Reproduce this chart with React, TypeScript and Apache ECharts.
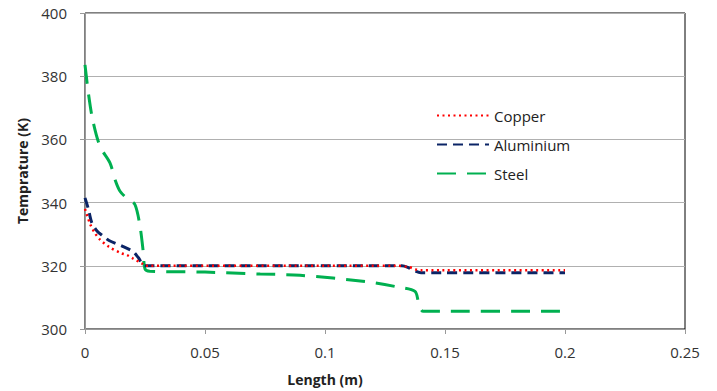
import React, { useEffect, useRef } from "react";
import * as echarts from "echarts";

const copperX = [0, 0.002, 0.004, 0.00625, 0.01, 0.015, 0.0175, 0.02, 0.0236, 0.025, 0.05, 0.1, 0.13, 0.135, 0.138, 0.14, 0.2];
const copperY = [338, 333.5, 330.5, 328.3, 326, 324, 323.4, 322.3, 320.8, 320, 320, 320, 320, 319.6, 318.8, 318.6, 318.6];

const aluX = [0, 0.0014, 0.0028, 0.005, 0.0076, 0.01, 0.0153, 0.02, 0.0222, 0.025, 0.132, 0.1345, 0.137, 0.14, 0.2];
const aluY = [341.5, 338, 333.7, 331, 329.4, 328, 326.3, 324.5, 322.6, 320, 320, 319.5, 318.5, 317.8, 317.8];

const steelX = [0, 0.0014, 0.0032, 0.00625, 0.0104, 0.0125, 0.0146, 0.018, 0.0208, 0.0229, 0.0243, 0.025, 0.027, 0.05, 0.073, 0.0896, 0.117, 0.131, 0.1375, 0.139, 0.141, 0.198, 0.2];
const steelY = [383.6, 374.7, 366.2, 357.8, 352.6, 347.3, 343.6, 341, 339.4, 332.6, 324.2, 319, 318.3, 318, 317.4, 317, 315, 313.2, 311.9, 308.4, 305.6, 305.6, 304.7];

const seriesNames = ["Copper", "Aluminium", "Steel"];
const xTicks = { min: 0, max: 0.25, interval: 0.05 };
const yTicks = { min: 300, max: 400, interval: 20 };

const zip = (xs: number[], ys: number[]) => xs.map((x, i) => [x, ys[i]]);

export default function App() {
  const ref = useRef<HTMLDivElement>(null);
  useEffect(() => {
    if (!ref.current) return;
    const chart = echarts.init(ref.current, null, { renderer: "svg" });
    const font = "Open Sans, Liberation Sans, sans-serif";
    chart.setOption({
      animation: false,
      textStyle: { fontFamily: font },
      grid: {
        left: 85,
        right: 32,
        top: 13,
        bottom: 61,
        show: true,
        borderColor: "#000",
        borderWidth: 1,
      },
      legend: {
        orient: "vertical",
        left: 431,
        top: 103,
        itemWidth: 52,
        itemHeight: 10,
        itemGap: 14,
        itemStyle: { opacity: 0 },
        textStyle: { fontSize: 15, color: "#222", fontFamily: font },
        data: seriesNames,
      },
      xAxis: {
        type: "value",
        min: xTicks.min,
        max: xTicks.max,
        interval: xTicks.interval,
        name: "Length (m)",
        nameLocation: "middle",
        nameGap: 43,
        nameTextStyle: { fontSize: 14, fontWeight: "bold", color: "#222", padding: [0, 120, 0, 0] },
        axisLine: { onZero: false, lineStyle: { color: "#999", width: 1 } },
        axisTick: { show: true, length: 5, lineStyle: { color: "#999" } },
        axisLabel: { fontSize: 15, color: "#333", margin: 15, formatter: (v: number) => String(v) },
        splitLine: { show: false },
      },
      yAxis: {
        type: "value",
        min: yTicks.min,
        max: yTicks.max,
        interval: yTicks.interval,
        name: "Temprature (K)",
        nameLocation: "middle",
        nameGap: 56,
        nameTextStyle: { fontSize: 14, fontWeight: "bold", color: "#222" },
        axisLine: { show: true, lineStyle: { color: "#999", width: 1 } },
        axisTick: { show: true, length: 5, lineStyle: { color: "#999" } },
        axisLabel: { fontSize: 15, color: "#333", margin: 18 },
        splitLine: { show: true, lineStyle: { color: "#b0b0b0", width: 1 } },
      },
      series: [
        {
          name: "Copper",
          type: "line",
          symbol: "none",
          smooth: 0.3,
          data: zip(copperX, copperY),
          lineStyle: { color: "#ff0000", width: 2.5, type: [2, 3.5] },
          itemStyle: { color: "#ff0000" },
          z: 4,
        },
        {
          name: "Aluminium",
          type: "line",
          symbol: "none",
          smooth: 0.3,
          data: zip(aluX, aluY),
          lineStyle: { color: "#0b2466", width: 3, type: [10, 6] },
          itemStyle: { color: "#0b2466" },
          z: 3,
        },
        {
          name: "Steel",
          type: "line",
          symbol: "none",
          smooth: 0.3,
          data: zip(steelX, steelY),
          lineStyle: { color: "#00b050", width: 3, type: [19, 11] },
          itemStyle: { color: "#00b050" },
          z: 2,
        },
      ],
    });
    return () => chart.dispose();
  }, []);
  return <div ref={ref} style={{ width: 717, height: 391, position: "absolute", left: 0, top: 0 }} />;
}
